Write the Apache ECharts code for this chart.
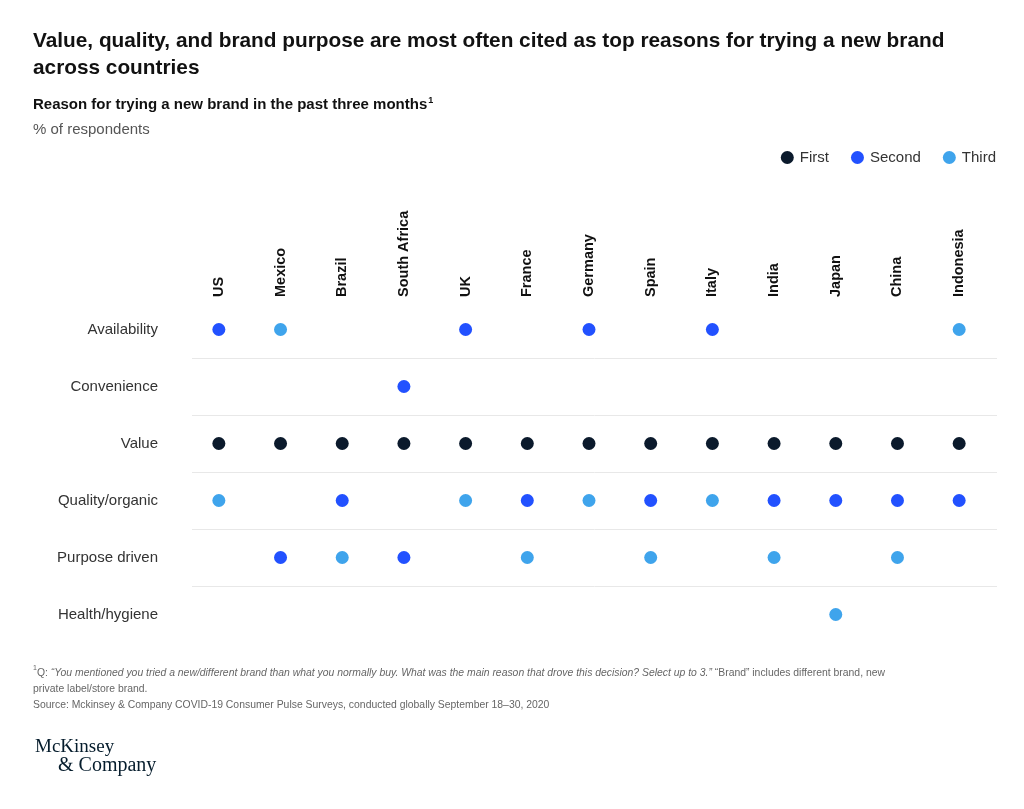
<!DOCTYPE html>
<html>
<head>
<meta charset="utf-8">
<script src="https://cdn.jsdelivr.net/npm/echarts@6/dist/echarts.min.js"></script>
<style>html,body{margin:0;padding:0;background:#fff;}#chart{width:1024px;height:809px;}</style>
</head>
<body>
<div id="chart"></div>
<script>
const countries = ['US','Mexico','Brazil','South Africa','UK','France','Germany','Spain','Italy','India','Japan','China','Indonesia'];
const reasons = ['Availability','Convenience','Value','Quality/organic','Purpose driven','Health/hygiene'];
const rankNames = ['First','Second','Third'];
const rankColors = ['#0b1a2c','#2251ff','#3fa4ec'];
// rank per country (0 = not in top 3)
const availability   = [2,3,0,0,2,0,2,0,2,0,0,0,3];
const convenience    = [0,0,0,2,0,0,0,0,0,0,0,0,0];
const value          = [1,1,1,1,1,1,1,1,1,1,1,1,1];
const qualityOrganic = [3,0,2,0,3,2,3,2,3,2,2,2,2];
const purposeDriven  = [0,2,3,2,0,3,0,3,0,3,0,3,0];
const healthHygiene  = [0,0,0,0,0,0,0,0,0,0,3,0,0];
const ranks = [availability, convenience, value, qualityOrganic, purposeDriven, healthHygiene];

const FONT = '"Liberation Sans", Arial, sans-serif';
const SERIF = '"Liberation Serif", "DejaVu Serif", serif';

const series = rankNames.map((name, r) => {
  const data = [];
  ranks.forEach((row, ri) => row.forEach((v, ci) => { if (v === r + 1) data.push([countries[ci], reasons[ri]]); }));
  return { name, type: 'scatter', xAxisIndex: 0, yAxisIndex: 0, symbol: 'circle', symbolSize: 13,
    itemStyle: { color: rankColors[r], opacity: 1 }, data, z: 3 };
});
series.push({ type: 'scatter', xAxisIndex: 1, yAxisIndex: 1, data: [], silent: true });

const chart = echarts.init(document.getElementById('chart'), null, { renderer: 'canvas' });
chart.setOption({
  animation: false,
  backgroundColor: '#fff',
  textStyle: { fontFamily: FONT },
  title: [
    { text: 'Value, quality, and brand purpose are most often cited as top reasons for trying a new brand\nacross countries',
      left: 33, top: 28, padding: 0, textStyle: { fontFamily: FONT, fontSize: 20.8, fontWeight: 'bold', color: '#111', lineHeight: 27 } },
    { text: 'Reason for trying a new brand in the past three months{sup|1}', left: 33, top: 96, padding: 0,
      textStyle: { fontFamily: FONT, fontSize: 15, fontWeight: 'bold', color: '#111',
        rich: { sup: { fontSize: 9, fontWeight: 'bold', color: '#111', verticalAlign: 'top', padding: [0,0,8,1] } } } },
    { text: '% of respondents', left: 33, top: 122, padding: 0, textStyle: { fontFamily: FONT, fontSize: 15, fontWeight: 'normal', color: '#555' } },
    { text: '{s|1}Q: {i|“You mentioned you tried a new/different brand than what you normally buy. What was the main reason that drove this decision? Select up to 3.”} “Brand” includes different brand, new\nprivate label/store brand.\nSource: Mckinsey & Company COVID-19 Consumer Pulse Surveys, conducted globally September 18–30, 2020',
      left: 33, top: 665, padding: 0, textStyle: { fontFamily: FONT, fontSize: 10.4, fontWeight: 'normal', color: '#666', lineHeight: 16,
        rich: { s: { fontSize: 7, color: '#666', verticalAlign: 'top' }, i: { fontStyle: 'italic', fontSize: 10.4, color: '#666' } } } },
    { text: 'McKinsey', left: 35, top: 738, padding: 0, textStyle: { fontFamily: SERIF, fontSize: 19, fontWeight: 'normal', color: '#051c2c' } },
    { text: '& Company', left: 58, top: 756, padding: 0, textStyle: { fontFamily: SERIF, fontSize: 20, fontWeight: 'normal', color: '#051c2c' } }
  ],
  legend: {
    data: rankNames, right: 23, top: 145, icon: 'circle', itemWidth: 13, itemHeight: 13, itemGap: 22,
    textStyle: { fontFamily: FONT, fontSize: 15, color: '#333', padding: [0,0,0,1] }
  },
  grid: [
    { left: 188, right: 34, top: 301, bottom: 166, containLabel: false },
    { left: 192, right: 27, top: 301, bottom: 166, containLabel: false }
  ],
  xAxis: [
    { type: 'category', gridIndex: 0, data: countries, position: 'top', boundaryGap: true,
      axisLine: { show: false }, axisTick: { show: false }, splitLine: { show: false },
      axisLabel: { rotate: -90, margin: 4, interval: 0, fontFamily: FONT, fontSize: 14.5, fontWeight: 'bold', color: '#111' } },
    { type: 'category', gridIndex: 1, data: countries, show: false }
  ],
  yAxis: [
    { type: 'category', gridIndex: 0, data: reasons, inverse: true, boundaryGap: true,
      axisLine: { show: false }, axisTick: { show: false }, splitLine: { show: false },
      axisLabel: { margin: 30, fontFamily: FONT, fontSize: 15, color: '#333' } },
    { type: 'category', gridIndex: 1, data: reasons, inverse: true, boundaryGap: true,
      axisLine: { show: false }, axisTick: { show: false }, axisLabel: { show: false },
      splitLine: { show: true, showMinLine: false, showMaxLine: false, lineStyle: { color: '#e8e8e8', width: 1 } } }
  ],
  series
});
</script>
</body>
</html>
